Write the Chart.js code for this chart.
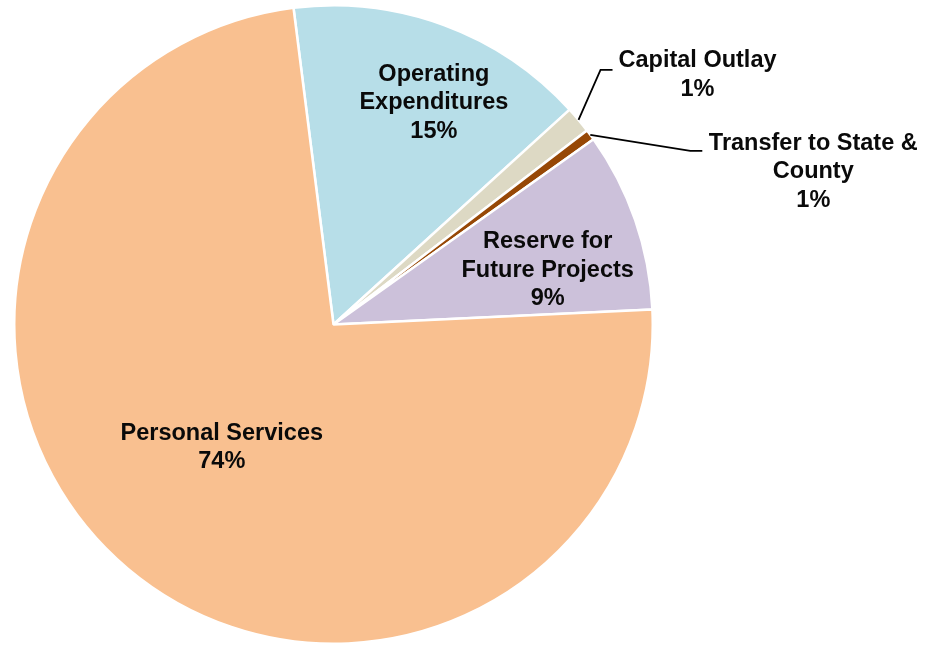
<!DOCTYPE html>
<html>
<head>
<meta charset="utf-8">
<script src="https://cdn.jsdelivr.net/npm/chart.js@4.4.1/dist/chart.umd.min.js"></script>
<style>
  html, body { margin: 0; padding: 0; background: #ffffff; }
  #wrap { width: 928px; height: 645px; position: relative; }
  .pre { font-family: 'Liberation Sans'; font-weight: bold; position: absolute; left: -9999px; }
</style>
</head>
<body>
<span class="pre">Preload Liberation Sans</span>
<div id="wrap"><canvas id="c" width="928" height="645"></canvas></div>
<script>
// ---- Data ----
const categories = ["Operating Expenditures", "Capital Outlay", "Transfer to State & County", "Reserve for Future Projects", "Personal Services"];
const labelLines = [["Operating", "Expenditures"], ["Capital Outlay"], ["Transfer to State &", "County"], ["Reserve for", "Future Projects"], ["Personal Services"]];
const shares = [15.25, 1.35, 0.55, 9.1, 73.75];
const colors = ["#B7DEE8", "#DDD9C4", "#974806", "#CCC1DA", "#F9C090"];

// ---- Label layout (styling only) ----
const labelLayout = [
  { type: "in", rFrac: 0.7, dx: 23, dy: -12 },
  { type: "out", elbow: [22, -50], tail: 12, text: [97, 5] },
  { type: "out", elbow: [100, 16], tail: 12, text: [123, 21] },
  { type: "in", rFrac: 0.7, dx: 3, dy: 19 },
  { type: "in", rFrac: 0.5, dx: -9, dy: 1 }
];

const FONT = "bold 23.5px 'Liberation Sans'";
const LINE_H = 28.5;

const labelPlugin = {
  id: "pieLabels",
  afterDatasetsDraw(chart) {
    const ctx = chart.ctx;
    const meta = chart.getDatasetMeta(0);
    const total = shares.reduce((a, b) => a + b, 0);
    ctx.save();
    ctx.font = FONT;
    ctx.fillStyle = "#0a0a0a";
    ctx.textAlign = "center";
    ctx.textBaseline = "middle";
    meta.data.forEach((arc, i) => {
      const p = arc.getProps(["x", "y", "startAngle", "endAngle", "outerRadius"], true);
      const mid = (p.startAngle + p.endAngle) / 2;
      const lay = labelLayout[i];
      const pct = Math.round(shares[i] / total * 100) + "%";
      const lines = labelLines[i].concat([pct]);
      let cx, cy;
      if (lay.type === "in") {
        const r = p.outerRadius * lay.rFrac;
        cx = p.x + Math.cos(mid) * r + lay.dx;
        cy = p.y + Math.sin(mid) * r + lay.dy;
      } else {
        const ax = p.x + Math.cos(mid) * p.outerRadius;
        const ay = p.y + Math.sin(mid) * p.outerRadius;
        const ex = ax + lay.elbow[0];
        const ey = ay + lay.elbow[1];
        ctx.beginPath();
        ctx.strokeStyle = "#000000";
        ctx.lineWidth = 1.8;
        ctx.moveTo(ax, ay);
        ctx.lineTo(ex, ey);
        ctx.lineTo(ex + lay.tail, ey);
        ctx.stroke();
        cx = ex + lay.text[0];
        cy = ey + lay.text[1];
      }
      const top = cy - (lines.length - 1) * LINE_H / 2;
      lines.forEach((t, k) => ctx.fillText(t, cx, top + k * LINE_H));
    });
    ctx.restore();
  }
};

function draw() {
  new Chart(document.getElementById("c"), {
    type: "pie",
    data: {
      labels: categories,
      datasets: [{
        data: shares,
        backgroundColor: colors,
        borderColor: "#ffffff",
        borderWidth: 2.5
      }]
    },
    options: {
      responsive: false,
      animation: false,
      rotation: -7.2,
      layout: { padding: { left: 13, right: 274, top: 4, bottom: 0 } },
      plugins: {
        legend: { display: false },
        tooltip: { enabled: false },
        title: { display: false }
      }
    },
    plugins: [labelPlugin]
  });
}
if (document.fonts && document.fonts.load) {
  document.fonts.load(FONT).then(draw, draw);
} else {
  draw();
}
</script>
</body>
</html>
